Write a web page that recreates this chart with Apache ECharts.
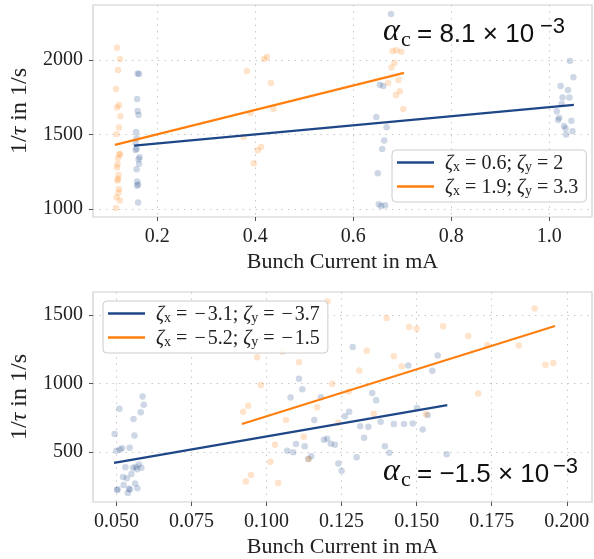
<!DOCTYPE html>
<html>
<head>
<meta charset="utf-8">
<script src="https://cdn.jsdelivr.net/npm/echarts@6/dist/echarts.min.js"></script>
<style>
html,body{margin:0;padding:0;background:#fff;}
#c{width:594px;height:559px;}
</style>
</head>
<body>
<div id="c"></div>
<script>
// ---------- DATA ----------
var topXTicks = [0.2, 0.4, 0.6, 0.8, 1.0];
var topYTicks = [1000, 1500, 2000];
var botXTicks = [0.050, 0.075, 0.100, 0.125, 0.150, 0.175, 0.200];
var botYTicks = [500, 1000, 1500];

var topBluePoints = [
  [0.160,1910],[0.163,1905],[0.159,1739],[0.160,1658],[0.162,1632],[0.157,1518],[0.158,1476],[0.156,1440],
  [0.156,1397],[0.158,1405],[0.164,1348],[0.162,1335],[0.163,1304],[0.158,1268],[0.159,1185],[0.159,1158],
  [0.161,1165],[0.161,1045],
  [0.677,2308],[0.654,1833],[0.661,1826],[0.647,1618],[0.668,1549],[0.663,1460],[0.659,1404],[0.650,1241],
  [0.652,1034],[0.657,1022],[0.665,1027],
  [1.042,1993],[1.049,1884],[1.023,1826],[1.038,1799],[1.027,1748],[1.041,1748],[1.025,1705],[1.015,1656],
  [1.020,1612],[1.018,1598],[1.045,1592],[1.030,1558],[1.033,1540],[1.047,1523],[1.034,1500]
];
var topOrangePoints = [
  [0.118,2082],[0.124,2007],[0.120,1933],[0.116,1806],[0.122,1699],[0.118,1681],[0.125,1623],[0.122,1547],
  [0.117,1502],[0.124,1371],[0.123,1365],[0.120,1342],[0.119,1301],[0.118,1279],[0.121,1230],[0.120,1203],
  [0.119,1193],[0.122,1136],[0.121,1110],[0.117,1081],[0.124,1058],[0.116,1009],
  [0.418,2007],[0.424,2020],[0.383,1926],[0.432,1846],[0.437,1672],[0.390,1645],[0.376,1484],[0.412,1417],
  [0.405,1395],[0.397,1308],
  [0.680,2060],[0.688,2065],[0.698,2055],[0.684,1982],[0.678,1950],[0.671,1845],[0.692,1866],[0.695,1790],
  [0.687,1766],[0.702,1672]
];
var topBlueFit = [[0.153,1426],[1.050,1699]];
var topOrangeFit = [[0.1137,1431],[0.7035,1913]];

var botBluePoints = [
  [0.0587,905],[0.0591,844],[0.0510,815],[0.0581,789],[0.0557,741],[0.0560,620],[0.0494,630],[0.0544,531],
  [0.0519,526],[0.0512,517],[0.0500,509],[0.0530,387],[0.0555,384],[0.0564,389],[0.0575,408],[0.0583,384],
  [0.0569,374],[0.0550,338],[0.0522,317],[0.0535,307],[0.0524,259],[0.0562,269],[0.0504,228],[0.0502,222],
  [0.0542,230],[0.0545,225],[0.0570,235],[0.0538,199],
  [0.1287,1266],[0.1108,1035],[0.1119,957],[0.1080,897],[0.1181,900],[0.1159,733],[0.1261,760],[0.1275,793],
  [0.1191,589],[0.1202,596],[0.1214,560],[0.1228,553],[0.1098,558],[0.1127,541],[0.1069,509],[0.1089,497],
  [0.1149,468],[0.1239,415],[0.1250,363],[0.1139,449],
  [0.1472,1131],[0.1570,1205],[0.1552,1092],[0.1352,931],[0.1365,878],[0.1501,820],[0.1380,721],[0.1424,704],
  [0.1458,704],[0.1487,707],[0.1312,688],[0.1339,683],[0.1537,770],[0.1520,663],[0.1325,603],[0.1394,541],
  [0.1409,493],[0.1300,461],[0.1600,483]
];
var botOrangePoints = [
  [0.1203,1598],[0.1053,1232],[0.1108,1155],[0.0969,1191],[0.0981,988],[0.0939,837],[0.0922,793],[0.1065,733],
  [0.1124,611],[0.1028,553],[0.1013,428],[0.0948,331],[0.0931,283],[0.1039,273],[0.1140,449],[0.1169,827],
  [0.1219,998],[0.1274,941],[0.1309,1095],[0.1239,712],
  [0.1400,1478],[0.1475,1413],[0.1500,1400],[0.1588,1418],[0.1672,1347],[0.1334,1239],[0.1424,1198],[0.1450,1126],
  [0.1357,779],[0.1531,775],
  [0.1893,1548],[0.1840,1277],[0.1735,1280],[0.1929,1136],[0.1955,1150],[0.1705,926]
];
var botBlueFit = [[0.0492,420],[0.1602,842]];
var botOrangeFit = [[0.0918,704],[0.1961,1420]];

var legendTop = ['ζx = 0.6; ζy = 2', 'ζx = 1.9; ζy = 3.3'];
var legendBot = ['ζx = −3.1; ζy = −3.7', 'ζx = −5.2; ζy = −1.5'];

// ---------- STYLE ----------
var BLUE = '#1f4788';
var ORANGE = '#ff7f0e';
var SERIF = '"Liberation Serif", "DejaVu Serif", serif';
var SANS = '"Liberation Sans", Arial, sans-serif';

function valRich(v) {
  return v.charAt(0) === '−' ? '{m|−}{t|' + v.slice(1) + '}' : '{t|' + v + '}';
}
function legendFmt(name) {
  var m = name.match(/^ζx = (.*); ζy = (.*)$/);
  return '{z|ζ}{s|x}{t| = }' + valRich(m[1]) + '{t|; }{z|ζ}{s|y}{t| = }' + valRich(m[2]);
}
var legendRich = {
  z: {fontFamily: SERIF, fontStyle: 'italic', fontSize: 20, color: '#222', lineHeight: 23, verticalAlign: 'bottom'},
  s: {fontFamily: SERIF, fontSize: 14, color: '#222', lineHeight: 14, verticalAlign: 'bottom'},
  t: {fontFamily: SERIF, fontSize: 20, color: '#222', lineHeight: 23, verticalAlign: 'bottom'},
  m: {fontFamily: SERIF, fontSize: 20, color: '#222', lineHeight: 23, verticalAlign: 'bottom', padding: [0, 2, 0, 2]}
};

function xAxisCfg(gi, min, max, ticks, dec) {
  return {
    type: 'value', gridIndex: gi, min: min, max: max,
    name: 'Bunch Current in mA', nameLocation: 'middle', nameGap: 34,
    nameTextStyle: {fontFamily: SERIF, fontSize: 22, color: '#222'},
    axisLine: {show: false},
    axisTick: {show: true, customValues: ticks, length: 4, lineStyle: {color: '#555', width: 1}},
    axisLabel: {customValues: ticks, margin: 10, fontFamily: SERIF, fontSize: 20, color: '#222',
      formatter: function (v) { return v.toFixed(dec); }},
    splitLine: {show: true, lineStyle: {color: '#c8c8c8', type: [1.5, 5], width: 1}}
  };
}
function yAxisCfg(gi, min, max, ticks) {
  return {
    type: 'value', gridIndex: gi, min: min, max: max,
    name: '1/{i|τ} in 1/s', nameLocation: 'middle', nameGap: 55,
    nameTextStyle: {fontFamily: SERIF, fontSize: 24, color: '#222',
      rich: {i: {fontFamily: SERIF, fontStyle: 'italic', fontSize: 24, color: '#222'}}},
    axisLine: {show: false},
    axisTick: {show: true, customValues: ticks, length: 4, lineStyle: {color: '#555', width: 1}},
    axisLabel: {customValues: ticks, margin: 10, fontFamily: SERIF, fontSize: 20, color: '#222',
      formatter: function (v) { return String(v); }},
    splitLine: {show: true, lineStyle: {color: '#c8c8c8', type: [1.5, 5], width: 1}}
  };
}
function scatter(name, gi, data, color) {
  return {type: 'scatter', name: name, xAxisIndex: gi, yAxisIndex: gi, data: data, symbolSize: 6.5,
    itemStyle: {color: color, opacity: 0.22}, z: 1, silent: true};
}
function fit(name, gi, data, color) {
  return {type: 'line', name: name, xAxisIndex: gi, yAxisIndex: gi, data: data, symbol: 'none',
    lineStyle: {color: color, width: 2.2}, itemStyle: {color: color}, z: 3, silent: true};
}
function legendCfg(left, top, names) {
  return {
    orient: 'vertical', left: left, top: top, data: names, icon: 'rect', itemWidth: 37, itemHeight: 2.5,
    itemGap: 4, padding: [4, 8, 4, 5],
    backgroundColor: 'rgba(255,255,255,0.85)', borderColor: '#cccccc', borderWidth: 1, borderRadius: 4,
    textStyle: {rich: legendRich, padding: [0,0,0,6]},
    formatter: legendFmt, selectedMode: false
  };
}
function txt(x, y, s, font) {
  return {type: 'text', left: x, top: y, z: 100, silent: true, style: {text: s, font: font, fill: '#111'}};
}

var chart = echarts.init(document.getElementById('c'), null, {renderer: 'canvas'});
var option = {
  animation: false,
  backgroundColor: '#fff',
  grid: [
    {left: 93, top: 5, right: 2, height: 212, show: true, borderColor: '#cfcfcf', borderWidth: 1.2, backgroundColor: 'transparent'},
    {left: 93, top: 292, right: 2, height: 212, show: true, borderColor: '#cfcfcf', borderWidth: 1.2, backgroundColor: 'transparent'}
  ],
  xAxis: [xAxisCfg(0, 0.069, 1.087, topXTicks, 1), xAxisCfg(1, 0.0422, 0.2084, botXTicks, 3)],
  yAxis: [yAxisCfg(0, 948, 2368, topYTicks), yAxisCfg(1, 134, 1668, botYTicks)],
  legend: [legendCfg(392, 150, legendTop), legendCfg(103, 301, legendBot)],
  series: [
    scatter('tb', 0, topBluePoints, BLUE),
    scatter('to', 0, topOrangePoints, ORANGE),
    fit(legendTop[0], 0, topBlueFit, BLUE),
    fit(legendTop[1], 0, topOrangeFit, ORANGE),
    scatter('bb', 1, botBluePoints, BLUE),
    scatter('bo', 1, botOrangePoints, ORANGE),
    fit(legendBot[0], 1, botBlueFit, BLUE),
    fit(legendBot[1], 1, botOrangeFit, ORANGE)
  ],
  graphic: [
    txt(383, 16, 'α', 'italic 32px ' + SERIF),
    txt(401, 29, 'c', '22px ' + SERIF),
    txt(417, 22, '= 8.1 × 10', '26px ' + SANS),
    txt(540, 16, '−3', '22px ' + SANS),
    txt(383, 456, 'α', 'italic 32px ' + SERIF),
    txt(401, 469, 'c', '22px ' + SERIF),
    txt(417, 462, '= −1.5 × 10', '26px ' + SANS),
    txt(553, 456, '−3', '22px ' + SANS)
  ]
};
chart.setOption(option);
</script>
</body>
</html>
